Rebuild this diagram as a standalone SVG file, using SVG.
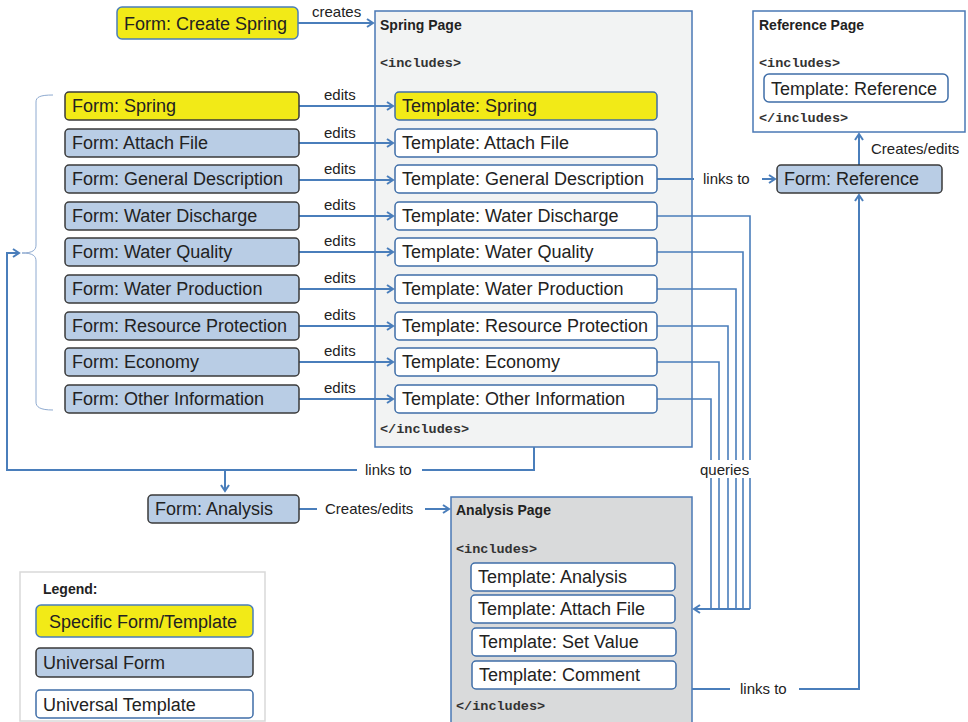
<svg xmlns="http://www.w3.org/2000/svg" width="968" height="722" viewBox="0 0 968 722">
  <style>
    .bg { fill: #ffffff; }
    .form { fill: #b9cde5; stroke: #3a3a3a; stroke-width: 1.5; }
    .tmpl { fill: #ffffff; stroke: #3f6ea8; stroke-width: 1.5; }
    .ytmpl { fill: #f2ea17; stroke: #3f6ea8; stroke-width: 1.5; }
    .yform { fill: #f2ea17; stroke: #3a3a3a; stroke-width: 1.5; }
    .page { stroke: #4a78b5; stroke-width: 1.5; }
    .lbl { font-family: "Liberation Sans", Arial, sans-serif; font-size: 18px; fill: #222222; }
    .small { font-family: "Liberation Sans", Arial, sans-serif; font-size: 15px; fill: #222222; }
    .title { font-family: "Liberation Sans", Arial, sans-serif; font-size: 14px; font-weight: bold; fill: #222222; }
    .code { font-family: "Liberation Mono", "Courier New", monospace; font-size: 13.5px; font-weight: bold; fill: #333333; }
    .wire { fill: none; stroke: #4a7ebb; stroke-width: 2; }
    .wire1 { fill: none; stroke: #4a7ebb; stroke-width: 1.6; }
  </style>
  <defs>
    <marker id="arr" markerWidth="10" markerHeight="10" refX="8" refY="5" orient="auto" markerUnits="userSpaceOnUse">
      <path d="M2,1 L8,5 L2,9" fill="none" stroke="#4a7ebb" stroke-width="2"/>
    </marker>
  </defs>

  <rect class="bg" x="0" y="0" width="968" height="722"/>

  <!-- Pages -->
  <g id="spring-page">
    <rect class="page" x="375" y="11" width="317" height="436" fill="#f2f3f3"/>
    <text class="title" x="380" y="30">Spring Page</text>
    <text class="code" x="380" y="67">&lt;includes&gt;</text>
    <text class="code" x="380" y="433">&lt;/includes&gt;</text>
  </g>
  <g id="reference-page">
    <rect class="page" x="753" y="11" width="212" height="121" fill="#ffffff"/>
    <text class="title" x="759" y="30">Reference Page</text>
    <text class="code" x="759" y="67">&lt;includes&gt;</text>
    <text class="code" x="759" y="122">&lt;/includes&gt;</text>
  </g>
  <g id="analysis-page">
    <rect class="page" x="451" y="497" width="241" height="226" fill="#d9dadb"/>
    <text class="title" x="456" y="515">Analysis Page</text>
    <text class="code" x="456" y="553">&lt;includes&gt;</text>
    <text class="code" x="456" y="710">&lt;/includes&gt;</text>
  </g>

  <!-- Connectors -->
  <g id="connectors">
    <path class="wire" d="M298,23 H373" marker-end="url(#arr)"/>
    <text class="small" x="312" y="17">creates</text>

    <g id="edits">
      <path class="wire" d="M299,106 H393" marker-end="url(#arr)"/>
      <path class="wire" d="M299,143 H393" marker-end="url(#arr)"/>
      <path class="wire" d="M299,180 H393" marker-end="url(#arr)"/>
      <path class="wire" d="M299,216 H393" marker-end="url(#arr)"/>
      <path class="wire" d="M299,252 H393" marker-end="url(#arr)"/>
      <path class="wire" d="M299,289 H393" marker-end="url(#arr)"/>
      <path class="wire" d="M299,326 H393" marker-end="url(#arr)"/>
      <path class="wire" d="M299,362 H393" marker-end="url(#arr)"/>
      <path class="wire" d="M299,399 H393" marker-end="url(#arr)"/>
      <text class="small" x="324" y="100">edits</text>
      <text class="small" x="324" y="138">edits</text>
      <text class="small" x="324" y="174">edits</text>
      <text class="small" x="324" y="210">edits</text>
      <text class="small" x="324" y="246">edits</text>
      <text class="small" x="324" y="283">edits</text>
      <text class="small" x="324" y="320">edits</text>
      <text class="small" x="324" y="356">edits</text>
      <text class="small" x="324" y="393">edits</text>
    </g>

    <!-- brace grouping the spring forms -->
    <path d="M53,95 C40,95 36,97 36,102 V245 C36,250 33,253 22,253 C33,253 36,256 36,261 V402 C36,407 40,410 53,410" fill="none" stroke="#8eaad0" stroke-width="1"/>

    <!-- Spring page links to the form group and the analysis form -->
    <path class="wire" d="M534,447 V470 H422"/>
    <path class="wire" d="M357,470 H7 V253 H19" marker-end="url(#arr)"/>
    <path class="wire" d="M225,470 V491" marker-end="url(#arr)"/>
    <text class="small" x="365" y="475">links to</text>

    <path class="wire" d="M299,509 H317"/>
    <path class="wire" d="M425,509 H449" marker-end="url(#arr)"/>
    <text class="small" x="325" y="514">Creates/edits</text>

    <!-- general description links to reference form -->
    <path class="wire" d="M657,179 H694"/>
    <path class="wire" d="M762,179 H775" marker-end="url(#arr)"/>
    <text class="small" x="703" y="184">links to</text>

    <path class="wire" d="M859,165 V134" marker-end="url(#arr)"/>
    <text class="small" x="871" y="154">Creates/edits</text>

    <!-- analysis page links to reference form -->
    <path class="wire" d="M692,689 H730"/>
    <path class="wire" d="M799,689 H859 V195" marker-end="url(#arr)"/>
    <text class="small" x="740" y="694">links to</text>

    <!-- queries from spring templates to analysis attach-file -->
    <g id="queries">
      <path class="wire1" d="M657,216 H750 V609"/>
      <path class="wire1" d="M657,252 H743 V609"/>
      <path class="wire1" d="M657,289 H736 V609"/>
      <path class="wire1" d="M657,326 H728 V609"/>
      <path class="wire1" d="M657,362 H719 V609"/>
      <path class="wire1" d="M657,399 H711 V609"/>
      <path class="wire" d="M750,609 H694" marker-end="url(#arr)"/>
      <rect x="698" y="460" width="57" height="18" fill="#ffffff"/>
      <text class="small" x="700" y="475">queries</text>
    </g>
  </g>

  <!-- Forms -->
  <g id="form-create-spring">
    <rect x="117" y="7" width="181" height="32" rx="5" fill="#f2ea17" stroke="#4a7ebb" stroke-width="1.5"/>
    <text class="lbl" x="124" y="30">Form: Create Spring</text>
  </g>
  <g id="form-spring"><rect class="yform" x="65" y="92" width="234" height="28" rx="4"/><text class="lbl" x="72" y="112">Form: Spring</text></g>
  <g id="form-attach-file"><rect class="form" x="65" y="129" width="234" height="28" rx="4"/><text class="lbl" x="72" y="149">Form: Attach File</text></g>
  <g id="form-general-description"><rect class="form" x="65" y="165" width="234" height="28" rx="4"/><text class="lbl" x="72" y="185">Form: General Description</text></g>
  <g id="form-water-discharge"><rect class="form" x="65" y="202" width="234" height="28" rx="4"/><text class="lbl" x="72" y="222">Form: Water Discharge</text></g>
  <g id="form-water-quality"><rect class="form" x="65" y="238" width="234" height="28" rx="4"/><text class="lbl" x="72" y="258">Form: Water Quality</text></g>
  <g id="form-water-production"><rect class="form" x="65" y="275" width="234" height="28" rx="4"/><text class="lbl" x="72" y="295">Form: Water Production</text></g>
  <g id="form-resource-protection"><rect class="form" x="65" y="312" width="234" height="28" rx="4"/><text class="lbl" x="72" y="332">Form: Resource Protection</text></g>
  <g id="form-economy"><rect class="form" x="65" y="348" width="234" height="28" rx="4"/><text class="lbl" x="72" y="368">Form: Economy</text></g>
  <g id="form-other-information"><rect class="form" x="65" y="385" width="234" height="28" rx="4"/><text class="lbl" x="72" y="405">Form: Other Information</text></g>
  <g id="form-analysis"><rect class="form" x="148" y="495" width="151" height="28" rx="4"/><text class="lbl" x="155" y="515">Form: Analysis</text></g>
  <g id="form-reference"><rect class="form" x="777" y="165" width="165" height="28" rx="4"/><text class="lbl" x="784" y="185">Form: Reference</text></g>

  <!-- Spring page templates -->
  <g id="tpl-spring"><rect class="ytmpl" x="395" y="92" width="262" height="28" rx="4"/><text class="lbl" x="402" y="112">Template: Spring</text></g>
  <g id="tpl-attach-file"><rect class="tmpl" x="395" y="129" width="262" height="28" rx="4"/><text class="lbl" x="402" y="149">Template: Attach File</text></g>
  <g id="tpl-general-description"><rect class="tmpl" x="395" y="165" width="262" height="28" rx="4"/><text class="lbl" x="402" y="185">Template: General Description</text></g>
  <g id="tpl-water-discharge"><rect class="tmpl" x="395" y="202" width="262" height="28" rx="4"/><text class="lbl" x="402" y="222">Template: Water Discharge</text></g>
  <g id="tpl-water-quality"><rect class="tmpl" x="395" y="238" width="262" height="28" rx="4"/><text class="lbl" x="402" y="258">Template: Water Quality</text></g>
  <g id="tpl-water-production"><rect class="tmpl" x="395" y="275" width="262" height="28" rx="4"/><text class="lbl" x="402" y="295">Template: Water Production</text></g>
  <g id="tpl-resource-protection"><rect class="tmpl" x="395" y="312" width="262" height="28" rx="4"/><text class="lbl" x="402" y="332">Template: Resource Protection</text></g>
  <g id="tpl-economy"><rect class="tmpl" x="395" y="348" width="262" height="28" rx="4"/><text class="lbl" x="402" y="368">Template: Economy</text></g>
  <g id="tpl-other-information"><rect class="tmpl" x="395" y="385" width="262" height="28" rx="4"/><text class="lbl" x="402" y="405">Template: Other Information</text></g>

  <!-- Reference page template -->
  <g id="tpl-reference"><rect class="tmpl" x="764" y="74" width="184" height="28" rx="5"/><text class="lbl" x="771" y="95">Template: Reference</text></g>

  <!-- Analysis page templates -->
  <g id="tpl-analysis"><rect class="tmpl" x="471" y="563" width="204" height="28" rx="4"/><text class="lbl" x="478" y="583">Template: Analysis</text></g>
  <g id="tpl-analysis-attach-file"><rect class="tmpl" x="471" y="595" width="204" height="28" rx="4"/><text class="lbl" x="478" y="615">Template: Attach File</text></g>
  <g id="tpl-set-value"><rect class="tmpl" x="472" y="628" width="204" height="28" rx="4"/><text class="lbl" x="479" y="648">Template: Set Value</text></g>
  <g id="tpl-comment"><rect class="tmpl" x="472" y="661" width="204" height="28" rx="4"/><text class="lbl" x="479" y="681">Template: Comment</text></g>

  <!-- Legend -->
  <g id="legend">
    <rect x="20" y="572" width="245" height="149" fill="#ffffff" stroke="#d9d9d9" stroke-width="1.5"/>
    <text class="title" x="43" y="594">Legend:</text>
    <rect x="36" y="605" width="217" height="32" rx="5" fill="#f2ea17" stroke="#4a7ebb" stroke-width="1.5"/>
    <text class="lbl" x="49" y="628">Specific Form/Template</text>
    <rect class="form" x="36" y="648" width="217" height="29" rx="4"/>
    <text class="lbl" x="43" y="669">Universal Form</text>
    <rect class="tmpl" x="36" y="690" width="217" height="28" rx="4"/>
    <text class="lbl" x="43" y="711">Universal Template</text>
  </g>
</svg>
